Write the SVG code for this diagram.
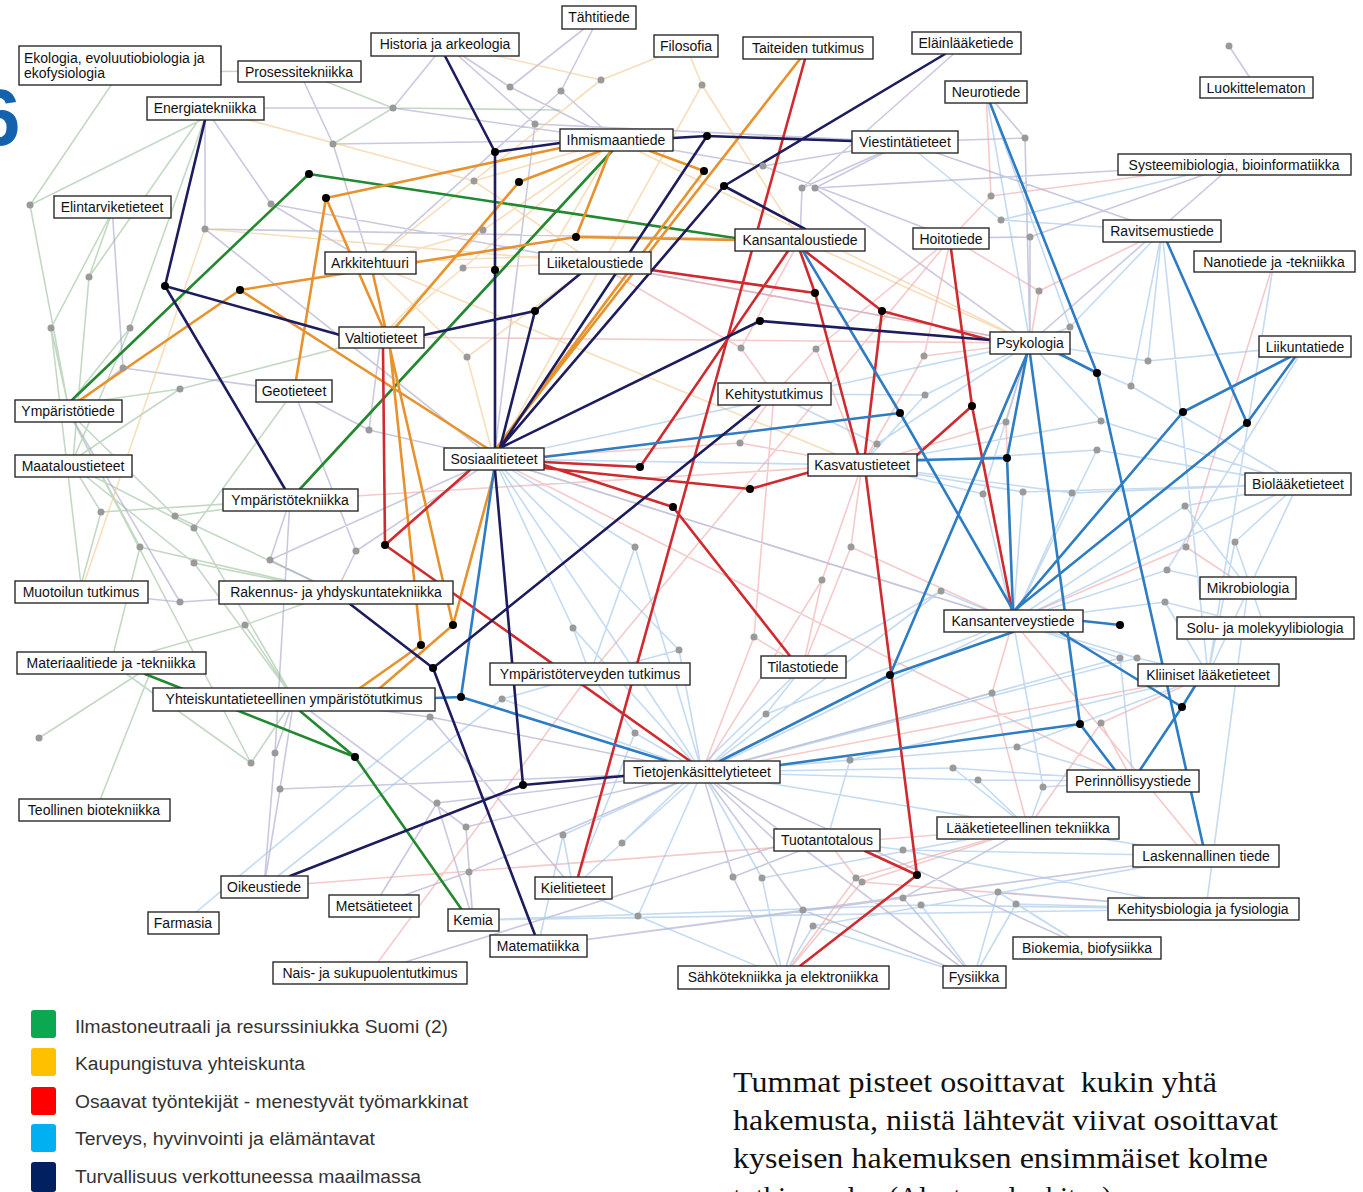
<svg xmlns="http://www.w3.org/2000/svg" width="1363" height="1192" viewBox="0 0 1363 1192">
<style>
.n rect{fill:#fff;stroke:#2a2a2a;stroke-width:1.4}
.n text{font-family:"Liberation Sans",Arial,sans-serif;font-size:14px;fill:#111;text-anchor:middle}
.f{fill:none;stroke-width:1.6;stroke-linecap:round}
.fg{stroke:#9cc09c;opacity:.6}
.fv{stroke:#9c9cc6;opacity:.55}
.fo{stroke:#f2c890;opacity:.6}
.fr{stroke:#eea6a6;opacity:.6}
.fb{stroke:#9cc3e8;opacity:.6}
.m{fill:none;stroke-width:2.6;stroke-linejoin:round;stroke-linecap:round}
.gr{stroke:#23882f}.or{stroke:#e8922e}.rd{stroke:#d02a2e}.bl{stroke:#2d7cc4}.nv{stroke:#1c1c5e}
.gd{fill:#9a9a9a}
.bd{fill:#000}
.lg{font-family:"Liberation Sans",Arial,sans-serif;font-size:18px;fill:#333}
.nt{font-family:"Liberation Serif","Times New Roman",serif;font-size:29px;fill:#111;white-space:pre}
</style>
<rect width="1363" height="1192" fill="#fff"/>
<text x="-24" y="145" font-family="Liberation Sans,Arial,sans-serif" font-weight="bold" font-size="80" fill="#1462ad">6</text>
<g id="connectors">
<g id="faint">
<path class="f fg" d="M30,205L120,72M30,205L205,118M30,205L68,405M89,277L112,212M89,277L73,460M89,277L200,118M51,328L68,405M51,328L112,212M51,328L81,585M130,328L68,405M130,328L205,118M130,328L73,460M180,389L68,405M180,389L381,337M180,389L73,460M101,512L73,466M101,512L81,585M101,512L290,500M175,516L68,411M175,516L290,500M175,516L336,592M194,528L73,466M194,528L294,391M194,528L294,699M140,547L68,411M140,547L111,663M140,547L336,592M194,563L73,466M194,563L336,592M194,563L294,699M245,625L111,663M245,625L336,592M245,625L294,699M39,738L140,673M251,763L294,699M251,763L111,663M251,763L68,411M100,800L150,673M333,144L393,108L560,110M393,108L299,71M120,72L299,71"/>
<path class="f fv" d="M393,108L205,108M393,108L616,140M393,108L445,44M333,144L299,71M333,144L616,140M333,144L370,263M271,204L205,108M271,204L370,263M271,204L1030,343M205,229L205,108M205,229L494,459M205,229L800,240M123,368L68,411M123,368L294,391M123,368L112,207M369,430L381,337M369,430L294,391M369,430L494,459M270,560L290,500M270,560L336,592M270,560L494,459M356,551L294,391M356,551L336,592M356,551L494,459M180,602L81,592M180,602L68,411M180,602L336,592M275,753L294,699M275,753L290,500M275,753L264,887M280,789L294,699M280,789L702,772M280,789L264,887M430,717L294,699M430,717L702,772M430,717L573,888M437,803L702,772M437,803L374,906M437,803L473,920M510,87L445,44M510,87L616,140M510,87L599,17M561,91L599,17M561,91L370,263M561,91L616,140M535,124L445,44M535,124L494,459M535,124L905,142M763,166L616,140M763,166L905,142M763,166L951,238M802,188L905,142M802,188L800,240M802,188L966,43M815,188L905,142M815,188L1030,343M815,188L1234,164M1025,138L986,92M1025,138L905,142M1025,138L1030,343M1030,237L1234,164M1030,237L951,238M1030,237L1030,343M1229,46L1256,87M466,827L702,772M466,827L473,920M466,827L294,699M469,872L473,920M469,872L374,906M469,872L702,772M733,877L827,840M733,877L783,977M733,877L702,772M803,910L783,977M803,910L702,772M803,910L974,977M903,898L974,977M903,898L1028,828M903,898L538,946M780,845L827,840M780,845L702,772M780,845L370,973M538,946L1206,856M702,772L974,977M702,772L1087,948M1030,343L1234,164M905,142L1162,231"/>
<path class="f fo" d="M601,80L686,46M601,80L370,263M601,80L445,44M702,85L686,46M702,85L494,459M702,85L800,240M474,181L595,263M474,181L616,140M474,181L205,108M483,230L370,263M483,230L616,140M483,230L381,337M548,256L370,263M548,256L595,263M548,256L616,140M463,268L381,337M463,268L595,263M463,268L616,140M467,357L494,459M467,357L370,263M467,357L595,263M205,229L595,263M81,592L205,229M616,140L1030,343M370,263L862,465M800,240L1030,343"/>
<path class="f fr" d="M741,348L774,394M741,348L800,240M741,348L595,263M816,349L774,394M816,349L951,238M816,349L862,465M740,443L494,459M740,443L862,465M740,443L774,394M851,547L862,465M851,547L803,667M851,547L1013,621M822,580L803,667M822,580L862,465M822,580L702,772M754,637L803,667M754,637L774,394M754,637L702,772M924,356L1030,343M924,356L862,465M924,356L951,238M1006,422L1030,343M1006,422L1013,621M1006,422L862,465M991,196L986,92M991,196L951,238M991,196L1234,164M1039,291L1030,343M1039,291L1162,231M1039,291L951,238M1186,547L1248,588M1186,547L1013,621M1186,547L1274,261M1101,723L1208,675M1101,723L1133,781M1101,723L1028,828M856,878L827,840M856,878L1028,828M856,878L783,977M862,882L1028,828M862,882L1203,909M862,882L783,977M992,693L1013,621M992,693L1028,828M992,693L702,772M264,887L1028,828M370,973L590,674M494,459L1133,781M702,772L1208,675M290,500L862,465M494,459L1013,621M595,263L1030,343M381,337L1030,343M590,674L951,238M1013,621L1206,856"/>
<path class="f fb" d="M635,547L494,459M635,547L702,772M635,547L590,674M573,628L494,459M573,628L590,674M573,628L702,772M679,650L590,674M679,650L702,772M679,650L494,459M877,444L862,465M877,444L1030,343M877,444L774,394M925,395L862,465M925,395L1030,343M925,395L774,394M1148,361L1305,346M1148,361L1030,343M1148,361L1162,231M1131,386L1162,231M1131,386L1298,484M1131,386L1030,343M1101,421L862,465M1101,421L1030,343M1101,421L1298,484M1097,450L862,465M1097,450L1298,484M1097,450L1013,621M983,494L1013,621M983,494L862,465M983,494L1030,343M1023,492L862,465M1023,492L1013,621M1023,492L1298,484M1072,493L1013,621M1072,493L1298,484M1072,493L862,465M1185,506L1298,484M1185,506L1013,621M1185,506L1248,588M1235,542L1298,484M1235,542L1265,628M1235,542L1208,675M1167,570L1013,621M1167,570L1248,588M1167,570L1305,346M941,591L1013,621M941,591L803,667M941,591L702,772M1165,602L1013,621M1165,602L1265,628M1165,602L1208,675M1137,658L1208,675M1137,658L1013,621M1137,658L702,772M1120,658L1013,621M1120,658L1133,781M1120,658L702,772M1001,220L1234,164M1001,220L1162,231M1001,220L905,142M1070,327L1030,343M1070,327L986,92M1070,327L1162,231M502,699L590,674M502,699L702,772M502,699L264,887M635,733L702,772M635,733L590,674M635,733L573,888M563,835L573,888M563,835L702,772M563,835L538,946M622,843L573,888M622,843L702,772M622,843L803,667M638,916L573,888M638,916L783,977M638,916L702,772M766,714L702,772M766,714L803,667M766,714L1013,621M850,760L702,772M850,760L1208,675M850,760L827,840M762,878L783,977M762,878L702,772M762,878L1028,828M813,926L783,977M813,926L974,977M813,926L1206,856M1017,747L702,772M1017,747L1133,781M1017,747L1208,675M953,768L1028,828M953,768L702,772M953,768L1133,781M978,780L702,772M978,780L1133,781M978,780L1028,828M1043,787L1133,781M1043,787L1028,828M1043,787L1013,621M903,850L827,840M903,850L1206,856M903,850L1203,909M998,892L1087,948M998,892L1203,909M998,892L974,977M921,905L974,977M921,905L1203,909M921,905L473,920M1016,904L1203,909M1016,904L1087,948M1016,904L974,977M183,923L430,717M473,920L1203,909M702,772L1206,856M702,772L1298,484M1162,231L1208,675M1298,484L1208,675M1248,588L1206,909M1274,261L1208,675M494,459L862,465M494,459L1030,343M494,459L702,772M494,459L1013,621M986,92L1030,343"/>
</g>
<g id="main">
<path class="m gr" d="M735,238L309,174L72,400M612,151L300,489M145,674L355,757L462,910M300,711L355,757"/>
<path class="m or" d="M560,148L326,198L296,380M326,198L383,328M80,400L240,290L576,237L735,240M240,290L490,450M576,237L610,151M600,151L519,182L395,328M650,151L704,171L495,450M800,59L495,450M373,274L453,625M390,348L421,645M495,470L453,625L380,688M421,645L360,688"/>
<path class="m rd" d="M805,59L578,877M544,462L640,467L788,251M544,465L673,507L790,656M544,468L750,489L810,472M651,270L815,293L800,251M815,293L858,454M805,251L882,311L990,340M882,311L865,454M951,249L972,406L1012,610M972,406L917,455M866,476L917,875L800,966M917,875L865,851M383,348L385,545L470,470M385,545L690,761"/>
<path class="m bl" d="M990,103L1097,373L1203,845M1060,354L1097,373M1167,242L1247,423L1295,357M1247,423L1015,610M1290,357L1183,412L1015,610M1027,354L1007,458L1013,610M1007,458L917,460M1027,354L890,675L720,761M1013,632L890,675M1030,354L1080,724L780,765M1080,724L1115,770M1083,621L1120,625M1060,632L1182,707L1195,686M1182,707L1140,770M544,457L900,413L1013,610M900,413L803,251M435,698L461,697L667,761M461,697L494,470"/>
<path class="m nv" d="M445,56L495,152L560,143M495,152L495,448M495,470L523,785L624,776M523,785L290,876M205,120L165,286L340,335M165,286L285,489M424,335L535,311L580,274M535,311L500,448M673,138L707,136L852,141M707,136L500,448M945,54L724,186L500,448M724,186L805,229M500,448L760,321L990,340M760,405L433,668L535,935M433,668L350,604"/>
</g>
</g>
<g id="dots">
<g class="gd">
<circle cx="30" cy="205" r="3.5"/><circle cx="89" cy="277" r="3.5"/><circle cx="51" cy="328" r="3.5"/><circle cx="130" cy="328" r="3.5"/><circle cx="180" cy="389" r="3.5"/><circle cx="101" cy="512" r="3.5"/><circle cx="175" cy="516" r="3.5"/><circle cx="194" cy="528" r="3.5"/><circle cx="140" cy="547" r="3.5"/><circle cx="194" cy="563" r="3.5"/><circle cx="245" cy="625" r="3.5"/><circle cx="39" cy="738" r="3.5"/><circle cx="251" cy="763" r="3.5"/><circle cx="393" cy="108" r="3.5"/><circle cx="333" cy="144" r="3.5"/><circle cx="271" cy="204" r="3.5"/><circle cx="205" cy="229" r="3.5"/><circle cx="123" cy="368" r="3.5"/><circle cx="369" cy="430" r="3.5"/><circle cx="270" cy="560" r="3.5"/><circle cx="356" cy="551" r="3.5"/><circle cx="180" cy="602" r="3.5"/><circle cx="275" cy="753" r="3.5"/><circle cx="280" cy="789" r="3.5"/><circle cx="430" cy="717" r="3.5"/><circle cx="437" cy="803" r="3.5"/><circle cx="510" cy="87" r="3.5"/><circle cx="561" cy="91" r="3.5"/><circle cx="601" cy="80" r="3.5"/><circle cx="702" cy="85" r="3.5"/><circle cx="535" cy="124" r="3.5"/><circle cx="474" cy="181" r="3.5"/><circle cx="483" cy="230" r="3.5"/><circle cx="548" cy="256" r="3.5"/><circle cx="463" cy="268" r="3.5"/><circle cx="467" cy="357" r="3.5"/><circle cx="763" cy="166" r="3.5"/><circle cx="802" cy="188" r="3.5"/><circle cx="815" cy="188" r="3.5"/><circle cx="1025" cy="138" r="3.5"/><circle cx="991" cy="196" r="3.5"/><circle cx="1001" cy="220" r="3.5"/><circle cx="1030" cy="237" r="3.5"/><circle cx="1039" cy="291" r="3.5"/><circle cx="1070" cy="327" r="3.5"/><circle cx="1229" cy="46" r="3.5"/><circle cx="741" cy="348" r="3.5"/><circle cx="816" cy="349" r="3.5"/><circle cx="740" cy="443" r="3.5"/><circle cx="635" cy="547" r="3.5"/><circle cx="851" cy="547" r="3.5"/><circle cx="877" cy="444" r="3.5"/><circle cx="822" cy="580" r="3.5"/><circle cx="573" cy="628" r="3.5"/><circle cx="754" cy="637" r="3.5"/><circle cx="679" cy="650" r="3.5"/><circle cx="924" cy="356" r="3.5"/><circle cx="925" cy="395" r="3.5"/><circle cx="1148" cy="361" r="3.5"/><circle cx="1131" cy="386" r="3.5"/><circle cx="1006" cy="422" r="3.5"/><circle cx="1101" cy="421" r="3.5"/><circle cx="1097" cy="450" r="3.5"/><circle cx="983" cy="494" r="3.5"/><circle cx="1023" cy="492" r="3.5"/><circle cx="1072" cy="493" r="3.5"/><circle cx="1185" cy="506" r="3.5"/><circle cx="1186" cy="547" r="3.5"/><circle cx="1235" cy="542" r="3.5"/><circle cx="1167" cy="570" r="3.5"/><circle cx="941" cy="591" r="3.5"/><circle cx="1165" cy="602" r="3.5"/><circle cx="1137" cy="658" r="3.5"/><circle cx="1120" cy="658" r="3.5"/><circle cx="502" cy="699" r="3.5"/><circle cx="635" cy="733" r="3.5"/><circle cx="466" cy="827" r="3.5"/><circle cx="563" cy="835" r="3.5"/><circle cx="622" cy="843" r="3.5"/><circle cx="469" cy="872" r="3.5"/><circle cx="638" cy="916" r="3.5"/><circle cx="766" cy="714" r="3.5"/><circle cx="850" cy="760" r="3.5"/><circle cx="733" cy="877" r="3.5"/><circle cx="762" cy="878" r="3.5"/><circle cx="856" cy="878" r="3.5"/><circle cx="803" cy="910" r="3.5"/><circle cx="862" cy="882" r="3.5"/><circle cx="903" cy="898" r="3.5"/><circle cx="813" cy="926" r="3.5"/><circle cx="780" cy="845" r="3.5"/><circle cx="992" cy="693" r="3.5"/><circle cx="1101" cy="723" r="3.5"/><circle cx="1017" cy="747" r="3.5"/><circle cx="953" cy="768" r="3.5"/><circle cx="978" cy="780" r="3.5"/><circle cx="1043" cy="787" r="3.5"/><circle cx="903" cy="850" r="3.5"/><circle cx="998" cy="892" r="3.5"/><circle cx="921" cy="905" r="3.5"/><circle cx="1016" cy="904" r="3.5"/>
</g>
<g class="bd">
<circle cx="309" cy="174" r="4"/><circle cx="326" cy="198" r="4"/><circle cx="240" cy="290" r="4"/><circle cx="165" cy="286" r="4"/><circle cx="495" cy="152" r="4"/><circle cx="495" cy="270" r="4"/><circle cx="519" cy="182" r="4"/><circle cx="576" cy="237" r="4"/><circle cx="535" cy="311" r="4"/><circle cx="707" cy="136" r="4"/><circle cx="704" cy="171" r="4"/><circle cx="724" cy="186" r="4"/><circle cx="760" cy="321" r="4"/><circle cx="815" cy="293" r="4"/><circle cx="882" cy="311" r="4"/><circle cx="640" cy="467" r="4"/><circle cx="673" cy="507" r="4"/><circle cx="750" cy="489" r="4"/><circle cx="900" cy="413" r="4"/><circle cx="972" cy="406" r="4"/><circle cx="1007" cy="458" r="4"/><circle cx="1097" cy="373" r="4"/><circle cx="1183" cy="412" r="4"/><circle cx="1247" cy="423" r="4"/><circle cx="1120" cy="625" r="4"/><circle cx="1182" cy="707" r="4"/><circle cx="1080" cy="724" r="4"/><circle cx="890" cy="675" r="4"/><circle cx="917" cy="875" r="4"/><circle cx="385" cy="545" r="4"/><circle cx="453" cy="625" r="4"/><circle cx="421" cy="645" r="4"/><circle cx="433" cy="668" r="4"/><circle cx="461" cy="697" r="4"/><circle cx="523" cy="785" r="4"/><circle cx="355" cy="757" r="4"/>
</g>
</g>
<g id="nodes">
<g id="n-tahtitiede" class="n"><rect x="562" y="6" width="74" height="23"/><text x="599" y="22">Tähtitiede</text></g>
<g id="n-historia" class="n"><rect x="371" y="33" width="148" height="23"/><text x="445" y="49">Historia ja arkeologia</text></g>
<g id="n-filosofia" class="n"><rect x="654" y="35" width="64" height="22"/><text x="686" y="51">Filosofia</text></g>
<g id="n-taiteiden" class="n"><rect x="743" y="37" width="130" height="22"/><text x="808" y="53">Taiteiden tutkimus</text></g>
<g id="n-elainlaaketiede" class="n"><rect x="912" y="32" width="109" height="22"/><text x="966" y="48">Eläinlääketiede</text></g>
<g id="n-ekologia" class="n"><rect x="19" y="46" width="202" height="39"/><text x="24" y="63" style="text-anchor:start">Ekologia, evoluutiobiologia ja</text><text x="24" y="78" style="text-anchor:start">ekofysiologia</text></g>
<g id="n-prosessitekniikka" class="n"><rect x="238" y="61" width="123" height="21"/><text x="299" y="77">Prosessitekniikka</text></g>
<g id="n-energiatekniikka" class="n"><rect x="147" y="97" width="117" height="23"/><text x="205" y="113">Energiatekniikka</text></g>
<g id="n-neurotiede" class="n"><rect x="945" y="81" width="82" height="22"/><text x="986" y="97">Neurotiede</text></g>
<g id="n-luokittelematon" class="n"><rect x="1200" y="77" width="113" height="21"/><text x="1256" y="93">Luokittelematon</text></g>
<g id="n-ihmismaantiede" class="n"><rect x="560" y="129" width="113" height="22"/><text x="616" y="145">Ihmismaantiede</text></g>
<g id="n-viestintatieteet" class="n"><rect x="852" y="131" width="106" height="22"/><text x="905" y="147">Viestintätieteet</text></g>
<g id="n-systeemibiologia" class="n"><rect x="1118" y="154" width="233" height="21"/><text x="1234" y="170">Systeemibiologia, bioinformatiikka</text></g>
<g id="n-elintarviketieteet" class="n"><rect x="54" y="196" width="117" height="22"/><text x="112" y="212">Elintarviketieteet</text></g>
<g id="n-kansantaloustiede" class="n"><rect x="735" y="229" width="130" height="22"/><text x="800" y="245">Kansantaloustiede</text></g>
<g id="n-hoitotiede" class="n"><rect x="913" y="228" width="76" height="21"/><text x="951" y="244">Hoitotiede</text></g>
<g id="n-ravitsemustiede" class="n"><rect x="1103" y="220" width="118" height="22"/><text x="1162" y="236">Ravitsemustiede</text></g>
<g id="n-nanotiede" class="n"><rect x="1194" y="251" width="161" height="21"/><text x="1274" y="267">Nanotiede ja -tekniikka</text></g>
<g id="n-arkkitehtuuri" class="n"><rect x="325" y="252" width="91" height="22"/><text x="370" y="268">Arkkitehtuuri</text></g>
<g id="n-liiketaloustiede" class="n"><rect x="539" y="252" width="112" height="22"/><text x="595" y="268">Liiketaloustiede</text></g>
<g id="n-valtiotieteet" class="n"><rect x="339" y="327" width="85" height="21"/><text x="381" y="343">Valtiotieteet</text></g>
<g id="n-psykologia" class="n"><rect x="990" y="332" width="80" height="22"/><text x="1030" y="348">Psykologia</text></g>
<g id="n-liikuntatiede" class="n"><rect x="1259" y="336" width="92" height="21"/><text x="1305" y="352">Liikuntatiede</text></g>
<g id="n-ymparistotiede" class="n"><rect x="15" y="400" width="107" height="22"/><text x="68" y="416">Ympäristötiede</text></g>
<g id="n-geotieteet" class="n"><rect x="256" y="380" width="76" height="22"/><text x="294" y="396">Geotieteet</text></g>
<g id="n-kehitystutkimus" class="n"><rect x="718" y="383" width="113" height="22"/><text x="774" y="399">Kehitystutkimus</text></g>
<g id="n-sosiaalitieteet" class="n"><rect x="444" y="448" width="100" height="22"/><text x="494" y="464">Sosiaalitieteet</text></g>
<g id="n-kasvatustieteet" class="n"><rect x="808" y="454" width="109" height="22"/><text x="862" y="470">Kasvatustieteet</text></g>
<g id="n-maataloustieteet" class="n"><rect x="15" y="455" width="117" height="22"/><text x="73" y="471">Maataloustieteet</text></g>
<g id="n-biolaaketieteet" class="n"><rect x="1245" y="473" width="106" height="22"/><text x="1298" y="489">Biolääketieteet</text></g>
<g id="n-ymparistotekniikka" class="n"><rect x="223" y="489" width="135" height="22"/><text x="290" y="505">Ympäristötekniikka</text></g>
<g id="n-muotoilun" class="n"><rect x="15" y="581" width="133" height="22"/><text x="81" y="597">Muotoilun tutkimus</text></g>
<g id="n-rakennus" class="n"><rect x="219" y="581" width="234" height="23"/><text x="336" y="597">Rakennus- ja yhdyskuntatekniikka</text></g>
<g id="n-mikrobiologia" class="n"><rect x="1200" y="577" width="96" height="22"/><text x="1248" y="593">Mikrobiologia</text></g>
<g id="n-kansanterveystiede" class="n"><rect x="944" y="610" width="139" height="22"/><text x="1013" y="626">Kansanterveystiede</text></g>
<g id="n-solu" class="n"><rect x="1177" y="617" width="177" height="22"/><text x="1265" y="633">Solu- ja molekyylibiologia</text></g>
<g id="n-materiaalitiede" class="n"><rect x="17" y="652" width="189" height="22"/><text x="111" y="668">Materiaalitiede ja -tekniikka</text></g>
<g id="n-ymparistoterveyden" class="n"><rect x="490" y="663" width="200" height="22"/><text x="590" y="679">Ympäristöterveyden tutkimus</text></g>
<g id="n-tilastotiede" class="n"><rect x="761" y="656" width="85" height="22"/><text x="803" y="672">Tilastotiede</text></g>
<g id="n-kliiniset" class="n"><rect x="1138" y="664" width="141" height="22"/><text x="1208" y="680">Kliiniset lääketieteet</text></g>
<g id="n-yhteiskuntatieteellinen" class="n"><rect x="153" y="688" width="282" height="23"/><text x="294" y="704">Yhteiskuntatieteellinen ympäristötutkimus</text></g>
<g id="n-tietojenkasittely" class="n"><rect x="624" y="761" width="156" height="22"/><text x="702" y="777">Tietojenkäsittelytieteet</text></g>
<g id="n-perinnollisyystiede" class="n"><rect x="1067" y="770" width="132" height="22"/><text x="1133" y="786">Perinnöllisyystiede</text></g>
<g id="n-teollinen" class="n"><rect x="19" y="799" width="151" height="22"/><text x="94" y="815">Teollinen biotekniikka</text></g>
<g id="n-laaketieteellinen" class="n"><rect x="937" y="817" width="182" height="22"/><text x="1028" y="833">Lääketieteellinen tekniikka</text></g>
<g id="n-tuotantotalous" class="n"><rect x="774" y="829" width="106" height="22"/><text x="827" y="845">Tuotantotalous</text></g>
<g id="n-laskennallinen" class="n"><rect x="1133" y="845" width="146" height="22"/><text x="1206" y="861">Laskennallinen tiede</text></g>
<g id="n-oikeustiede" class="n"><rect x="221" y="876" width="87" height="22"/><text x="264" y="892">Oikeustiede</text></g>
<g id="n-metsatieteet" class="n"><rect x="329" y="895" width="90" height="22"/><text x="374" y="911">Metsätieteet</text></g>
<g id="n-kielitieteet" class="n"><rect x="535" y="877" width="77" height="22"/><text x="573" y="893">Kielitieteet</text></g>
<g id="n-kehitysbiologia" class="n"><rect x="1108" y="898" width="191" height="22"/><text x="1203" y="914">Kehitysbiologia ja fysiologia</text></g>
<g id="n-kemia" class="n"><rect x="448" y="909" width="51" height="22"/><text x="473" y="925">Kemia</text></g>
<g id="n-farmasia" class="n"><rect x="148" y="912" width="71" height="22"/><text x="183" y="928">Farmasia</text></g>
<g id="n-matematiikka" class="n"><rect x="490" y="935" width="97" height="22"/><text x="538" y="951">Matematiikka</text></g>
<g id="n-biokemia" class="n"><rect x="1013" y="937" width="148" height="22"/><text x="1087" y="953">Biokemia, biofysiikka</text></g>
<g id="n-nais" class="n"><rect x="273" y="962" width="194" height="22"/><text x="370" y="978">Nais- ja sukupuolentutkimus</text></g>
<g id="n-sahkotekniikka" class="n"><rect x="678" y="966" width="211" height="23"/><text x="783" y="982">Sähkötekniikka ja elektroniikka</text></g>
<g id="n-fysiikka" class="n"><rect x="943" y="966" width="63" height="22"/><text x="974" y="982">Fysiikka</text></g>
</g>
<g id="legend">
<rect x="31" y="1010" width="25" height="28" rx="3" fill="#0aa84f"/>
<rect x="31" y="1048" width="25" height="28" rx="3" fill="#ffc000"/>
<rect x="31" y="1087" width="25" height="28" rx="3" fill="#ff0000"/>
<rect x="31" y="1124" width="25" height="28" rx="3" fill="#00b0f0"/>
<rect x="31" y="1162" width="25" height="30" rx="3" fill="#002060"/>
<text class="lg" x="75" y="1033" textLength="373" lengthAdjust="spacingAndGlyphs">Ilmastoneutraali ja resurssiniukka Suomi (2)</text>
<text class="lg" x="75" y="1070" textLength="230" lengthAdjust="spacingAndGlyphs">Kaupungistuva yhteiskunta</text>
<text class="lg" x="75" y="1108" textLength="393" lengthAdjust="spacingAndGlyphs">Osaavat työntekijät - menestyvät työmarkkinat</text>
<text class="lg" x="75" y="1145" textLength="300" lengthAdjust="spacingAndGlyphs">Terveys, hyvinvointi ja elämäntavat</text>
<text class="lg" x="75" y="1183" textLength="346" lengthAdjust="spacingAndGlyphs">Turvallisuus verkottuneessa maailmassa</text>
</g>
<g id="note">
<text class="nt" x="733" y="1092" textLength="484" lengthAdjust="spacingAndGlyphs">Tummat pisteet osoittavat  kukin yhtä</text>
<text class="nt" x="733" y="1130" textLength="545" lengthAdjust="spacingAndGlyphs">hakemusta, niistä lähtevät viivat osoittavat</text>
<text class="nt" x="733" y="1168" textLength="535" lengthAdjust="spacingAndGlyphs">kyseisen hakemuksen ensimmäiset kolme</text>
<text class="nt" x="733" y="1207">tutkimusalaa (Alustava luokitus)</text>
</g>
</svg>
